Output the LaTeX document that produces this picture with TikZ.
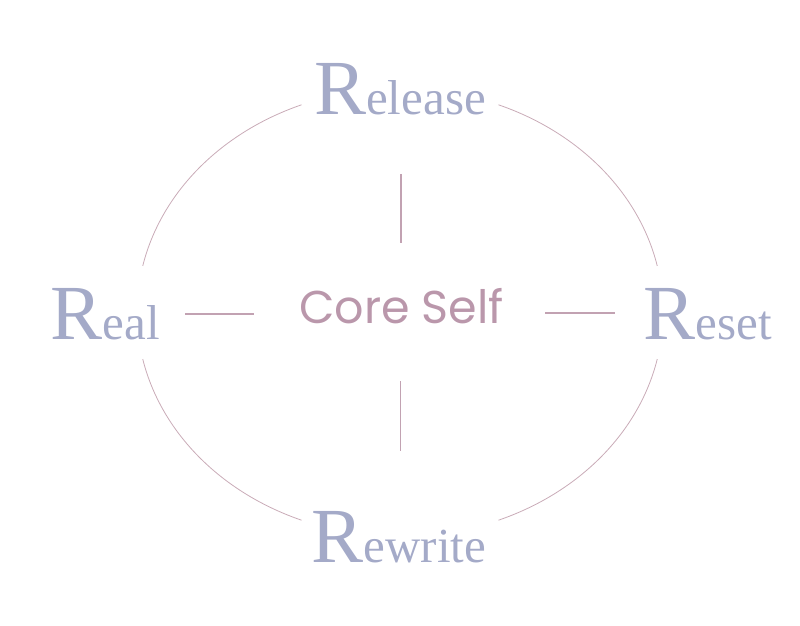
\documentclass[tikz,border=0pt]{standalone}
\usepackage{fontspec}
\setmainfont{Liberation Serif}
\newfontfamily\corefont{Poppins}
\definecolor{wordblue}{HTML}{A4AAC8}
\definecolor{coremauve}{HTML}{BA97AB}
\definecolor{spokepink}{HTML}{C2A2B2}
\definecolor{rimpink}{HTML}{C9ABB7}
\newcommand{\bigR}[1]{{\fontsize{78}{78}\selectfont R}#1}

\begin{document}
\begin{tikzpicture}[x=1pt,y=1pt,
        word/.style={anchor=base, inner sep=0pt, text=wordblue, font=\fontsize{49}{49}\selectfont},
        spoke/.style={draw=spokepink, line width=1.2pt},
        rim/.style={draw=rimpink, line width=0.8pt}]
        \useasboundingbox (0,0) rectangle (800,625);
        \coordinate (hub) at (400,312.5);
        % ring, broken at the four words
        \foreach \s/\e in {12/68,112/168,192/248,292/348}
            \draw[rim] (hub) ++(\s:263pt and 224pt) arc[start angle=\s, end angle=\e, x radius=263pt, y radius=224pt];
        \node[anchor=base, inner sep=0pt, text=coremauve, font=\corefont\fontsize{46}{46}\selectfont] (core) at (401.5,302) {Core Self};
        \node[word] (release) at (400,510) {\bigR{elease}};
        \node[word] (real) at (105.5,286) {\bigR{eal}};
        \node[word] (reset) at (707.5,286) {\bigR{eset}};
        \node[word] (rewrite) at (399,63) {\bigR{ewrite}};
        % spokes
        \coordinate (n1) at (401,451);
        \coordinate (n2) at (401,382);
        \coordinate (s1) at (400.7,244);
        \coordinate (s2) at (400.7,174);
        \coordinate (w1) at (185,311);
        \coordinate (w2) at (254,311);
        \coordinate (e1) at (545,312);
        \coordinate (e2) at (615,312);
        \draw[spoke] (n1) -- (n2);
        \draw[spoke] (s1) -- (s2);
        \draw[spoke] (w1) -- (w2);
        \draw[spoke] (e1) -- (e2);
    \end{tikzpicture}
\end{document}
